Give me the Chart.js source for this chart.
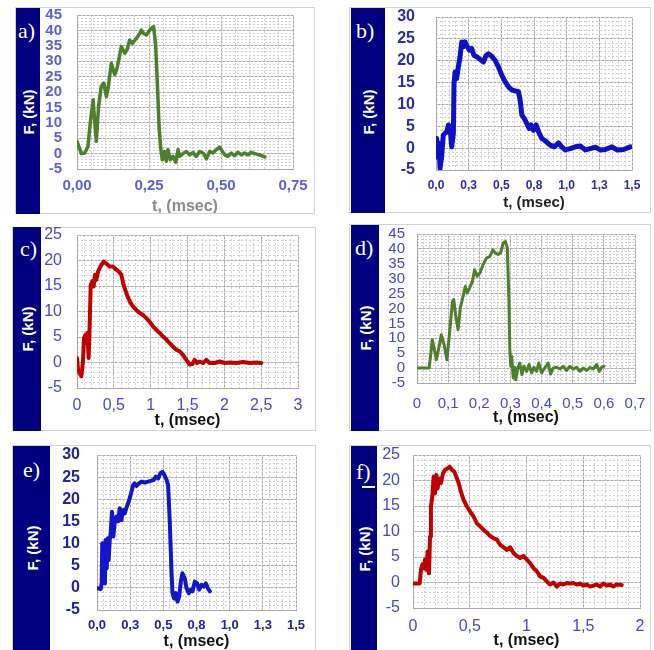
<!DOCTYPE html>
<html><head><meta charset="utf-8">
<style>
html,body{margin:0;padding:0;background:#fff}
body{width:654px;height:650px;position:relative;overflow:hidden;font-family:'Liberation Sans',Arial,sans-serif}
.frame{position:absolute;border:1px solid #d2d2d2;box-sizing:border-box;background:#fff}
.band{position:absolute;background:#000080}
.letter{position:absolute;color:#fff;font-family:'Liberation Serif','Times New Roman',serif;font-size:22px;line-height:1}
.ytitle{position:absolute;color:#fff;font-weight:bold;font-size:15px;white-space:nowrap;transform:translate(-50%,-50%) rotate(-90deg);line-height:1}
canvas{position:absolute}
</style>
<script src="https://cdn.jsdelivr.net/npm/chart.js"></script>
</head><body>
<script>
// ---------- DATA ----------
const tA=[0,0.015,0.027,0.038,0.046,0.056,0.061,0.067,0.075,0.084,0.093,0.102,0.108,0.119,0.131,0.139,0.154,0.166,0.174,0.183,0.192,0.206,0.218,0.223,0.231,0.241,0.249,0.258,0.266,0.273,0.279,0.285,0.290,0.296,0.304,0.310,0.316,0.324,0.333,0.343,0.351,0.356,0.368,0.380,0.391,0.403,0.414,0.426,0.440,0.449,0.461,0.472,0.484,0.495,0.505,0.513,0.524,0.536,0.547,0.559,0.571,0.582,0.594,0.605,0.617,0.634,0.652];
const fA=[4.0,0,0.2,2.3,9.9,17.5,11,4,15.4,21.8,22.9,18.5,21.2,29.3,25.6,27.7,34.7,32.6,33.7,36.9,35.8,37.4,39,40.1,39,38.5,39.6,40.7,41.2,35.3,22.9,8.8,2.3,-2,0.7,-2.5,1.3,-2,-0.9,-2.8,1.3,-0.9,0,0.7,-0.4,0.4,-0.9,0.7,0,-1.7,0.7,0.2,1.3,2.1,0.7,-0.4,-0.9,0.2,-0.7,0.4,-0.4,0.2,-0.4,0.4,0,-0.4,-1.1];

const tB=[0.005,0.010,0.023,0.031,0.043,0.056,0.069,0.082,0.095,0.107,0.120,0.133,0.138,0.146,0.158,0.171,0.184,0.197,0.210,0.222,0.235,0.256,0.273,0.291,0.312,0.337,0.363,0.383,0.401,0.427,0.452,0.478,0.503,0.529,0.555,0.580,0.606,0.631,0.644,0.657,0.675,0.695,0.713,0.728,0.746,0.767,0.785,0.810,0.843,0.874,0.905,0.938,0.963,0.989,1.027,1.066,1.104,1.142,1.181,1.219,1.257,1.296,1.347,1.385,1.436,1.487];
const fB=[2.2,-2,1.1,-4.6,-2,3,3.4,3.7,5.3,4.9,0.3,3.4,14.8,17.4,15.9,18.6,20.9,24.3,23.2,24.3,23.5,22.4,22.8,21.2,20.9,20.3,19.7,21.2,21.6,21.0,20.1,18.6,16.7,15.2,14.0,13.3,13.1,12.9,11.0,7.6,6.8,5.6,4.5,5.3,4.1,5.3,3.7,2.2,1.5,0.7,0.3,1.2,0.3,-0.4,-0.1,0.3,0.5,-0.4,-0.1,0.2,-0.4,-0.3,0.3,-0.4,-0.3,0.3];

const tC=[0,0.014,0.036,0.059,0.081,0.095,0.113,0.127,0.140,0.158,0.172,0.186,0.208,0.226,0.244,0.262,0.285,0.308,0.330,0.362,0.389,0.421,0.443,0.489,0.534,0.570,0.602,0.633,0.670,0.715,0.760,0.805,0.851,0.896,0.941,0.986,1.032,1.077,1.122,1.167,1.213,1.258,1.303,1.348,1.394,1.439,1.484,1.529,1.566,1.597,1.629,1.665,1.710,1.756,1.801,1.869,1.937,2.005,2.072,2.163,2.253,2.344,2.434,2.502];
const fC=[0.9,-1.4,-2.1,-2.7,0.2,4.8,5.4,3.8,5.8,0.9,7.4,15.2,15.9,14.9,17.2,16.2,17.8,18.5,19.1,19.8,19.5,19.1,18.8,18.8,18.2,17.8,17.2,15.2,13.6,12.0,11.0,10.3,9.7,9.3,8.7,8.0,7.1,6.4,5.8,5.1,4.5,3.8,3.1,2.5,2.2,1.5,0.5,-0.4,-0.3,0.5,-0.1,0.2,-0.1,0.5,-0.1,-0.1,0.2,-0.1,0.0,-0.1,0.1,-0.1,0.0,-0.1];

const tD=[0.003,0.039,0.044,0.049,0.055,0.062,0.070,0.078,0.087,0.096,0.105,0.114,0.118,0.124,0.132,0.139,0.148,0.155,0.161,0.169,0.178,0.185,0.193,0.202,0.212,0.223,0.234,0.244,0.252,0.260,0.268,0.277,0.284,0.290,0.295,0.298,0.301,0.304,0.309,0.314,0.317,0.323,0.330,0.337,0.343,0.352,0.360,0.368,0.375,0.384,0.391,0.400,0.411,0.421,0.429,0.437,0.448,0.459,0.470,0.480,0.491,0.502,0.512,0.523,0.534,0.545,0.555,0.566,0.577,0.585,0.593,0.600];
const fD=[0,0,4.5,9.5,6.7,2.8,6.7,11.2,7.9,2.8,12.3,22.4,23,17.9,12.9,20.2,24.1,27.4,25.2,26.9,29.1,33.0,30.8,31.9,34.7,36.9,37.5,39.7,38.6,38.1,38.6,42.0,42.5,40.3,23.5,6.7,0.6,4.0,-3.3,0.2,-3.9,-0.3,1.7,-2.2,0.6,-1.1,1.2,-1.6,0.2,-1.1,1.7,-1.6,0.2,1.7,-2.0,0,0.3,-0.3,0.6,-0.8,0.6,-0.3,0.3,-1.1,0,-0.8,0.2,-0.3,1.2,-1.1,0.3,0.6];

const tE=[0.008,0.028,0.035,0.040,0.048,0.053,0.060,0.065,0.073,0.081,0.088,0.096,0.103,0.113,0.123,0.133,0.146,0.159,0.171,0.184,0.196,0.209,0.221,0.239,0.254,0.272,0.284,0.297,0.317,0.335,0.360,0.385,0.410,0.428,0.443,0.461,0.478,0.493,0.508,0.524,0.536,0.549,0.561,0.569,0.581,0.594,0.607,0.619,0.632,0.644,0.662,0.675,0.692,0.707,0.720,0.737,0.755,0.770,0.788,0.805,0.821,0.836,0.851];
const fE=[-0.1,-0.3,1.0,10.1,4.0,10.1,1.0,10.8,4.4,11.2,6.3,10.8,12.3,17.2,11.6,14.6,16.1,15.0,18.0,15.3,17.6,16.8,18.0,19.5,21.0,23.2,23.6,23.0,23.6,24.0,23.8,24.0,24.2,24.4,25.1,24.7,25.9,26.2,25.5,24.4,23.2,14.6,4.0,-1.2,-2.4,-1.2,-3.1,-2.0,1.4,3.3,2.1,-0.1,-1.2,-0.4,-0.8,1.4,1.0,-0.4,0.7,0.3,1.0,-0.1,-0.8];

const tF=[0.006,0.059,0.070,0.082,0.094,0.106,0.117,0.129,0.141,0.150,0.158,0.170,0.182,0.194,0.205,0.217,0.229,0.246,0.264,0.284,0.305,0.323,0.343,0.364,0.381,0.402,0.422,0.446,0.475,0.504,0.534,0.563,0.592,0.622,0.651,0.680,0.710,0.739,0.768,0.798,0.827,0.856,0.886,0.915,0.944,0.974,1.003,1.032,1.062,1.091,1.120,1.150,1.179,1.208,1.238,1.267,1.296,1.326,1.355,1.384,1.413,1.443,1.472,1.501,1.531,1.560,1.589,1.619,1.648,1.677,1.707,1.736,1.765,1.795,1.839];
const fF=[-0.2,-0.2,2.5,3.5,2.8,4.5,2.5,6.1,1.8,9.0,14.9,16.8,20.8,17.5,21.1,18.5,20.4,19.5,21.4,22.1,22.4,22.7,22.1,21.7,20.8,19.5,17.8,16.2,14.9,13.9,12.9,11.6,11.0,10.3,9.8,9.1,8.7,8.4,7.4,6.9,6.4,6.9,5.8,5.2,4.8,5.2,4.5,3.8,2.8,2.2,1.2,0.9,0.2,-0.4,0.0,-0.8,-0.2,-0.4,-0.1,-0.2,-0.1,-0.4,-0.2,-0.6,-0.4,-0.8,-0.6,-0.4,-0.8,-0.2,-0.6,-0.4,-0.8,-0.4,-0.5];

// tick values and labels
const xValsA=[0,0.25,0.5,0.75], xLabA=['0,00','0,25','0,50','0,75'];
const xValsB=[0,0.25,0.5,0.75,1,1.25,1.5], xLabB=['0,0','0,3','0,5','0,8','1,0','1,3','1,5'];
const xValsC=[0,0.5,1,1.5,2,2.5,3], xLabC=['0','0,5','1','1,5','2','2,5','3'];
const xValsD=[0,0.1,0.2,0.3,0.4,0.5,0.6,0.7], xLabD=['0','0,1','0,2','0,3','0,4','0,5','0,6','0,7'];
const xValsE=[0,0.25,0.5,0.75,1,1.25,1.5], xLabE=['0,0','0,3','0,5','0,8','1,0','1,3','1,5'];
const xValsF=[0,0.5,1,1.5,2], xLabF=['0','0,5','1','1,5','2'];
const yValsA=[-5,0,5,10,15,20,25,30,35,40,45];
const yValsB=[-5,0,5,10,15,20,25,30];
const yValsC=[-5,0,5,10,15,20,25];
const yValsD=[-5,0,5,10,15,20,25,30,35,40,45];
const yValsE=[-5,0,5,10,15,20,25,30];
const yValsF=[-5,0,5,10,15,20,25];
const panelLetters=['a)','b)','c)','d)','e)','f)'];
const yTitle='F, (kN)', xTitle='t, (msec)';

// ---------- LAYOUT / STYLE ----------
const panels=[
 {t:tA,f:fA,xv:xValsA,xl:xLabA,yv:yValsA,letter:panelLetters[0],
  frame:[15,7,315,214],band:[16,8,40,214],plot:[77,15,293,169],tickY:186,titleY:207,ytY:112,let:[18,20],
  color:'#4e7f2d',lw:3.5,tick:{c:'#5e5ed8',s:15,w:'bold'},xt:{c:'#8a8a8a',s:16},ytPad:15,xtS:15,minX:0.05},
 {t:tB,f:fB,xv:xValsB,xl:xLabB,yv:yValsB,letter:panelLetters[1],
  frame:[349,7,651,213],band:[351,8,385,213],plot:[436,17,632,170],tickY:186,titleY:203,ytY:112,let:[356,20],
  color:'#0f0fc8',lw:5,tick:{c:'#2a2aae',s:16,w:'bold'},xt:{c:'#222',s:15},ytPad:21,xtS:12,minX:0.05},
 {t:tC,f:fC,xv:xValsC,xl:xLabC,yv:yValsC,letter:panelLetters[2],
  frame:[12,227,316,431],band:[13,227,41,431],plot:[77,235,298,388],tickY:406,titleY:421,ytY:329,let:[20,238],
  color:'#c00000',lw:4,tick:{c:'#4848c6',s:16,w:'normal'},xt:{c:'#111',s:16},ytPad:15,xtS:16,minX:0.1},
 {t:tD,f:fD,xv:xValsD,xl:xLabD,yv:yValsD,letter:panelLetters[3],
  frame:[349,224,651,431],band:[351,225,379,431],plot:[417,234,635,383],tickY:404,titleY:418,ytY:328,let:[355,237],
  color:'#4e7f2d',lw:3,tick:{c:'#4848c0',s:15,w:'normal'},xt:{c:'#111',s:16},ytPad:12,xtS:15,minX:0.02},
 {t:tE,f:fE,xv:xValsE,xl:xLabE,yv:yValsE,letter:panelLetters[4],
  frame:[12,445,316,651],band:[13,446,50,651],plot:[97,455,296,610],tickY:625,titleY:642,ytY:548,let:[23,459],
  color:'#1414cc',lw:4,tick:{c:'#22229e',s:16,w:'bold'},xt:{c:'#111',s:16},ytPad:17,xtS:13,minX:0.05},
 {t:tF,f:fF,xv:xValsF,xl:xLabF,yv:yValsF,letter:panelLetters[5],
  frame:[349,445,651,651],band:[351,446,377,651],plot:[413,455,640,608],tickY:627,titleY:641,ytY:549,let:[356,461],
  color:'#c00000',lw:4,tick:{c:'#4848c6',s:16,w:'normal'},xt:{c:'#111',s:16},ytPad:13,xtS:16,minX:0.1}
];
const MAJOR='#a8a8a8', MINOR='#d0d0d0', FONT="'Liberation Sans', Arial, sans-serif";

function el(cls,x,y,w,h){const d=document.createElement('div');d.className=cls;d.style.left=x+'px';d.style.top=y+'px';if(w!=null){d.style.width=w+'px';d.style.height=h+'px';}document.body.appendChild(d);return d;}

panels.forEach(p=>{
  const [fl,ft,fr,fb]=p.frame, [bl,bt,br,bb]=p.band, [pl,pt,pr,pb]=p.plot;
  el('frame',fl,ft,fr-fl,fb-ft);
  el('band',bl,bt,br-bl,bb-bt);
  const L=el('letter',p.let[0],p.let[1]); L.textContent=p.letter;
  const Y=el('ytitle',(bl+br)/2,p.ytY); Y.textContent=yTitle;

  const TOP=14;
  const cl=br, ct=pt-TOP, cr=fr-1, cb=fb-1;
  const cv=document.createElement('canvas');
  cv.width=cr-cl; cv.height=cb-ct;
  cv.style.left=cl+'px'; cv.style.top=ct+'px';
  cv.style.width=(cr-cl)+'px'; cv.style.height=(cb-ct)+'px';
  document.body.appendChild(cv);

  const xs=p.xtS, lhX=xs*1.2, lhT=p.xt.s*1.2;
  new Chart(cv,{
    type:'line',
    data:{datasets:[{data:p.t.map((t,i)=>({x:t,y:p.f[i]})),borderColor:p.color,borderWidth:p.lw,pointRadius:0,tension:0,fill:false,borderJoinStyle:'round',borderCapStyle:'round'}]},
    options:{
      responsive:false,animation:false,devicePixelRatio:1,
      layout:{padding:{top:TOP,right:cr-pr,left:0,bottom:0}},
      plugins:{legend:{display:false},tooltip:{enabled:false}},
      scales:{
        x:{type:'linear',position:'bottom',min:p.xv[0],max:p.xv[p.xv.length-1],
          afterBuildTicks:s=>{s.ticks=p.xv.map(v=>({value:v}));},
          afterFit:s=>{s.height=cb-pb;s.paddingLeft=4;s.paddingRight=4;},
          ticks:{autoSkip:false,maxRotation:0,minRotation:0,color:p.tick.c,font:{family:FONT,size:xs,weight:p.tick.w},padding:p.tickY-pb-lhX/2,callback:(v,i)=>p.xl[i]},
          grid:{color:MAJOR,drawTicks:false,lineWidth:1},
          border:{display:true,color:MAJOR},
          title:{display:true,text:xTitle,color:p.xt.c,font:{family:FONT,size:p.xt.s,weight:'bold'},padding:{top:0,bottom:cb-p.titleY-lhT/2}}
        },
        xm:{type:'linear',position:'bottom',min:p.xv[0],max:p.xv[p.xv.length-1],
          afterFit:s=>{s.height=0;s.paddingLeft=0;s.paddingRight=0;},
          ticks:{display:false,stepSize:p.minX},
          grid:{color:MINOR,drawTicks:false,lineWidth:1},
          border:{display:false,dash:[2,2]}
        },
        y:{type:'linear',position:'left',min:p.yv[0],max:p.yv[p.yv.length-1],
          afterBuildTicks:s=>{s.ticks=p.yv.map(v=>({value:v}));},
          afterFit:s=>{s.width=pl-cl;s.paddingTop=6;s.paddingBottom=6;},
          ticks:{autoSkip:false,color:p.tick.c,font:{family:FONT,size:p.tick.s,weight:p.tick.w,lineHeight:1},padding:p.ytPad,callback:(v)=>String(v)},
          grid:{color:MAJOR,drawTicks:false,lineWidth:1},
          border:{display:true,color:MAJOR}
        },
        ym:{type:'linear',position:'left',min:p.yv[0],max:p.yv[p.yv.length-1],
          afterFit:s=>{s.width=0;s.paddingTop=0;s.paddingBottom=0;},
          ticks:{display:false,stepSize:1},
          grid:{color:MINOR,drawTicks:false,lineWidth:1},
          border:{display:false,dash:[2,2]}
        }
      }
    }
  });
});
// small artifact mark under f)
el('band',362,486,13,2).style.background='#fff';
</script>
</body></html>
